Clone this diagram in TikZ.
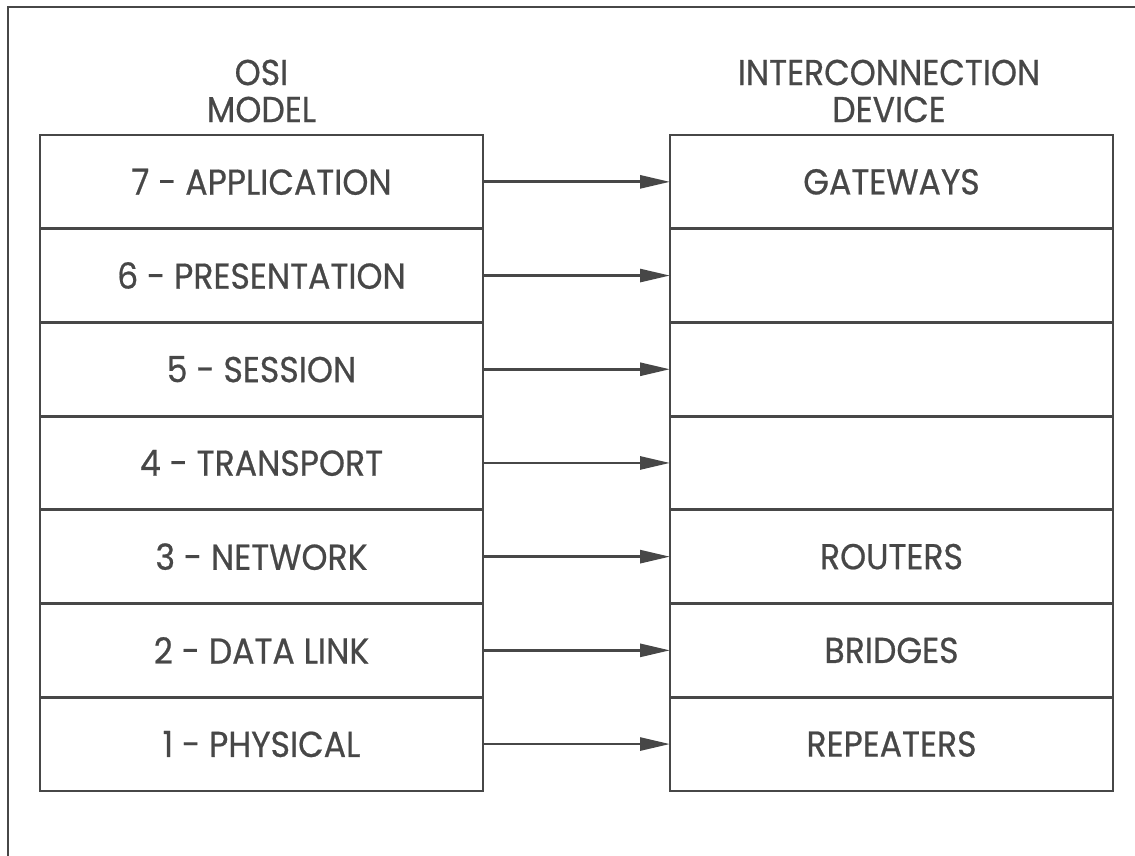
\documentclass[tikz,border=0pt]{standalone}
\usepackage{fontspec}
\setmainfont{Poppins}[FakeStretch=0.92, FakeBold=0.6]
\usetikzlibrary{arrows.meta}
\definecolor{ink}{HTML}{474747}
\tikzset{
  layer/.style={draw=ink, line width=2.8pt, minimum width=443pt, minimum height=93.7pt,
    inner sep=0pt, outer sep=0pt, text=ink, font=\fontsize{36}{38}\selectfont},
  device/.style={layer},
  heading/.style={text=ink, align=center, inner sep=0pt, font=\fontsize{36}{37}\selectfont},
  link/.style={draw=ink, line width=2.8pt, -{Triangle[length=30pt,width=13pt]}},
  frame/.style={draw=ink, line width=2.8pt}
}
\begin{document}
\begin{tikzpicture}[x=1pt,y=-1pt]
  \useasboundingbox (0,0) rectangle (1135,856);
  \begin{scope}
    \clip (0,0) rectangle (1135,856);
    \draw[frame] (8,7) rectangle (1150,870);
  \end{scope}

  % headings
  \node[heading] (hosi) at (261.5,91) {OSI\\MODEL};
  \node[heading] (hdev) at (889,91) {INTERCONNECTION\\DEVICE};

  % OSI layers (left) and interconnection devices (right)
  \foreach \n/\txt/\dev [count=\i from 0] in
    {7/7 - APPLICATION/GATEWAYS,
     6/6 - PRESENTATION/,
     5/5 - SESSION/,
     4/4 - TRANSPORT/,
     3/3 - NETWORK/ROUTERS,
     2/2 - DATA LINK/BRIDGES,
     1/1 - PHYSICAL/REPEATERS}{
    \node[layer] (l\n) at (261.5,{135+93.7*(\i+0.5)}) {\txt};
    \node[device] (r\n) at (891.5,{135+93.7*(\i+0.5)}) {\dev};
    \draw[link] (l\n.east) -- (r\n.west);
  }
\end{tikzpicture}
\end{document}
